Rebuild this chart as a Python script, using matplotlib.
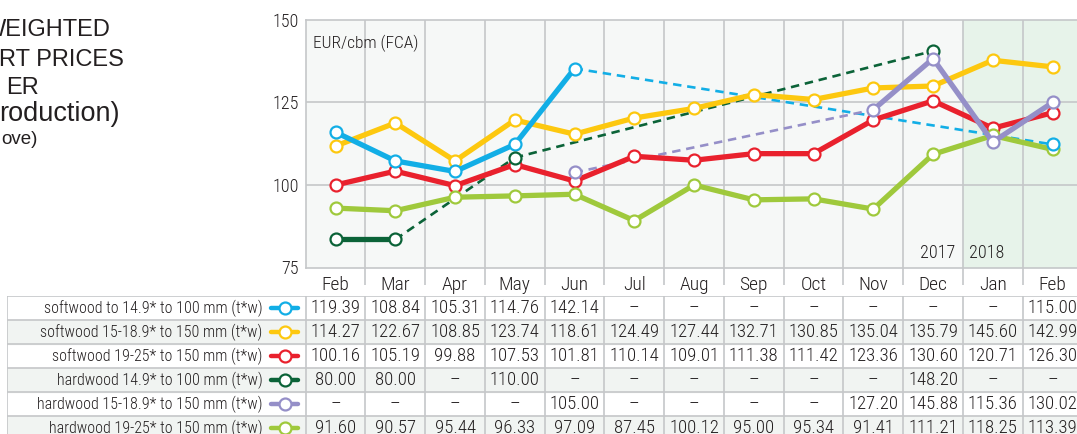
import numpy as np
import matplotlib.pyplot as plt
from matplotlib import font_manager

nan = np.nan

months = ["Feb", "Mar", "Apr", "May", "Jun", "Jul", "Aug", "Sep", "Oct", "Nov", "Dec", "Jan", "Feb"]

names = [
    "softwood to 14.9* to 100 mm (t*w)",
    "softwood 15-18.9* to 150 mm (t*w)",
    "softwood 19-25* to 150 mm (t*w)",
    "hardwood 14.9* to 100 mm (t*w)",
    "hardwood 15-18.9* to 150 mm (t*w)",
    "hardwood 19-25* to 150 mm (t*w)",
]
colors = ["#12aee6", "#fdc80f", "#e9212d", "#0b6338", "#958fc8", "#9fc93c"]

# values as drawn in the chart (EUR/cbm)
softwood_14 = [116.0, 107.3, 104.1, 112.3, 135.3, nan, nan, nan, nan, nan, nan, nan, 112.3]
softwood_15 = [111.8, 118.8, 107.3, 119.7, 115.4, 120.3, 123.2, 127.4, 125.9, 129.4, 130.0, 137.8, 135.8]
softwood_19 = [100.0, 104.2, 99.8, 106.2, 101.2, 108.7, 107.5, 109.5, 109.5, 119.7, 125.5, 117.2, 121.9]
hardwood_14 = [83.5, 83.5, nan, 108.3, nan, nan, nan, nan, nan, nan, 140.6, nan, nan]
hardwood_15 = [nan, nan, nan, nan, 103.8, nan, nan, nan, nan, 122.8, 138.3, 113.0, 125.0]
hardwood_19 = [93.0, 92.2, 96.3, 96.7, 97.2, 89.2, 100.0, 95.5, 95.8, 92.7, 109.3, 115.0, 110.8]

# values printed in the table
tab_softwood_14 = [119.39, 108.84, 105.31, 114.76, 142.14, None, None, None, None, None, None, None, 115.00]
tab_softwood_15 = [114.27, 122.67, 108.85, 123.74, 118.61, 124.49, 127.44, 132.71, 130.85, 135.04, 135.79, 145.60, 142.99]
tab_softwood_19 = [100.16, 105.19, 99.88, 107.53, 101.81, 110.14, 109.01, 111.38, 111.42, 123.36, 130.60, 120.71, 126.30]
tab_hardwood_14 = [80.00, 80.00, None, 110.00, None, None, None, None, None, None, 148.20, None, None]
tab_hardwood_15 = [None, None, None, None, 105.00, None, None, None, None, 127.20, 145.88, 115.36, 130.02]
tab_hardwood_19 = [91.60, 90.57, 95.44, 96.33, 97.09, 87.45, 100.12, 95.00, 95.34, 91.41, 111.21, 118.25, 113.39]

chart = [softwood_14, softwood_15, softwood_19, hardwood_14, hardwood_15, hardwood_19]
table = [tab_softwood_14, tab_softwood_15, tab_softwood_19, tab_hardwood_14, tab_hardwood_15, tab_hardwood_19]
draw_order = [2, 5, 1, 0, 3, 4]


def pick(candidates):
    avail = {f.name for f in font_manager.fontManager.ttflist}
    for c in candidates:
        if c in avail:
            return c
    return None


narrow = pick(["Roboto Condensed", "Liberation Sans Narrow", "Archivo Narrow",
               "PT Sans Narrow", "Fira Sans Condensed", "IBM Plex Sans Condensed"])
sans = pick(["Liberation Sans", "Arimo", "Nimbus Sans"]) or "DejaVu Sans"
if narrow is None:
    narrow, fs = sans, 0.86
else:
    fs = 1.0
NARROW = [narrow, "DejaVu Sans"]
SANS = [sans, "DejaVu Sans"]
LIGHT = 300

TXT = "#231f20"
GRID = "#c5c7c9"
W, H = 1077, 434


def fx(x):
    return x / W


def fy(y):
    return 1 - y / H


fig = plt.figure(figsize=(W / 100, H / 100), dpi=100)

# ---- title (cut at the left edge)
fig.text(fx(-16), fy(36), "WEIGHTED", fontsize=17, family=SANS, color=TXT, va="baseline")
fig.text(fx(-1), fy(66), "RT PRICES", fontsize=17, family=SANS, color=TXT, va="baseline")
fig.text(fx(6), fy(94), "ER", fontsize=17, family=SANS, color=TXT, va="baseline")
fig.text(fx(-1), fy(121), "roduction)", fontsize=19.5, family=SANS, color=TXT, va="baseline")
fig.text(fx(1), fy(144), "ove)", fontsize=13.5, family=SANS, color=TXT, va="baseline")

# ---- chart
ax = fig.add_axes([fx(305.7), fy(267.5), (1082.4 - 305.7) / W, (267.5 - 20) / H])
ax.set_facecolor("#f6f8f7")
ax.axvspan(10.5, 12.5, color="#e7f3ea", zorder=0)
ax.set_xlim(-0.5, 12.5)
ax.set_ylim(75, 150)
for b in np.arange(0.5, 12, 1):
    ax.axvline(b, color=GRID, lw=1.2, zorder=1)
for v in (100, 125):
    ax.axhline(v, color=GRID, lw=1.2, zorder=1)
for s in ("left", "top", "bottom"):
    ax.spines[s].set_color(GRID)
    ax.spines[s].set_linewidth(1.2)
ax.spines["right"].set_visible(False)

ax.set_yticks([75, 100, 125, 150])
ax.set_yticklabels(["75", "100", "125", "150"], family=NARROW, fontsize=13 * fs,
                   color=TXT, fontweight=LIGHT)
ax.tick_params(axis="y", length=0, pad=5)
ax.set_xticks(range(len(months)))
ax.set_xticklabels(months, family=NARROW, fontsize=14 * fs, color=TXT, fontweight=LIGHT)
ax.set_xticks(np.arange(0.5, 12, 1), minor=True)
ax.tick_params(axis="x", which="major", length=0, pad=6)
ax.tick_params(axis="x", which="minor", length=12, width=1.2, color=GRID)

x = np.arange(len(months))
for k in draw_order:
    vals = np.array(chart[k], dtype=float)
    idx = np.where(~np.isnan(vals))[0]
    # dashed connectors over the missing months
    for i, j in zip(idx[:-1], idx[1:]):
        if j - i > 1:
            ax.plot([i, j], [vals[i], vals[j]], color=colors[k], lw=1.9,
                    linestyle=(0, (3.2, 2.2)), zorder=2)
for k in draw_order:
    vals = np.array(chart[k], dtype=float)
    ax.plot(x, vals, color=colors[k], lw=3.8, solid_capstyle="round",
            marker="o", ms=8.6, mew=1.6, mfc="white", mec=colors[k], zorder=3)

ax.text(-0.37, 142.8, "EUR/cbm (FCA)", family=NARROW, fontsize=12.5 * fs, color=TXT,
        va="center", fontweight=LIGHT)
ax.text(10.38, 79.5, "2017", family=NARROW, fontsize=13 * fs, color=TXT, ha="right",
        va="center", fontweight=LIGHT)
ax.text(10.6, 79.5, "2018", family=NARROW, fontsize=13 * fs, color=TXT, ha="left",
        va="center", fontweight=LIGHT)

# ---- table
tx = fig.add_axes([fx(7), fy(440), (1082.4 - 7) / W, 144 / H])
tx.set_xlim(-5.5, 12.5)
tx.set_ylim(6, 0)
tx.axis("off")
for r in range(6):
    if r % 2 == 1:
        tx.axhspan(r, r + 1, color="#f1f4f2", zorder=0)
for r in range(7):
    tx.axhline(r, color=GRID, lw=1.2, zorder=1)
for b in [-5.5] + list(np.arange(-0.5, 12.6, 1)):
    tx.axvline(b, color=GRID, lw=1.2, zorder=1)

for r, (name, row) in enumerate(zip(names, table)):
    yc = r + 0.5
    tx.text(-1.22, yc, name, family=NARROW, fontsize=11.5 * fs, color=TXT, ha="right",
            va="center", fontweight=LIGHT)
    tx.plot([-1.08, -0.63], [yc, yc], color=colors[r], lw=3.2, solid_capstyle="round", zorder=2)
    tx.plot([-0.846], [yc], marker="o", ms=8.6, mew=1.6, mfc="white", mec=colors[r], zorder=3)
    for c, v in enumerate(row):
        label = "–" if v is None else f"{v:.2f}"
        tx.text(c, yc, label, family=NARROW, fontsize=13.5 * fs, color=TXT, ha="center",
                va="center", fontweight=LIGHT)

fig.savefig("out.png", dpi=100)
